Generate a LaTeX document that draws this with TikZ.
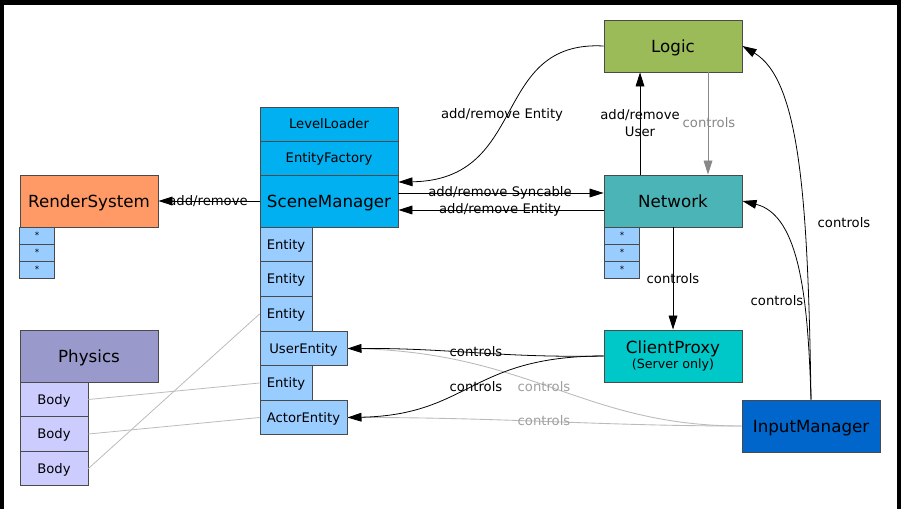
\documentclass[tikz,border=0pt]{standalone}
\usepackage{fontspec}
\setmainfont{DejaVu Sans}
\usetikzlibrary{arrows.meta}

\definecolor{edgecol}{HTML}{4A4A4A}
\definecolor{scenecol}{HTML}{00B0F0}
\definecolor{entcol}{HTML}{99CCFF}
\definecolor{rendercol}{HTML}{FF9966}
\definecolor{logiccol}{HTML}{9BBB59}
\definecolor{netcol}{HTML}{4BB4B6}
\definecolor{proxycol}{HTML}{00C8C8}
\definecolor{inputcol}{HTML}{0066CC}
\definecolor{physcol}{HTML}{9999CC}
\definecolor{bodycol}{HTML}{CCCCFF}
\definecolor{midgray}{HTML}{888888}
\definecolor{lightgray}{HTML}{BBBBBB}

\begin{document}
\begin{tikzpicture}[x=0.02cm,y=-0.02cm,
    box/.style={draw=edgecol,line width=0.5pt,inner sep=0pt,minimum width=2.76cm,
      minimum height=1.04cm,font=\fontsize{9.5}{11}\selectfont,
      text height=6.9pt,text depth=0pt},
    cell/.style={draw=edgecol,line width=0.5pt,inner sep=0pt,minimum height=0.69cm,
      font=\fontsize{7.5}{9}\selectfont,text height=5.5pt,text depth=0pt},
    star/.style={draw=edgecol,fill=entcol,line width=0.5pt,inner sep=0pt,
      minimum width=0.7cm,minimum height=0.34cm,font=\fontsize{5}{5}\selectfont},
    lbl/.style={inner sep=0pt,font=\fontsize{7.5}{9}\selectfont},
    conn/.style={line width=0.45pt,-{Triangle[length=8pt,width=5pt]}},
    faint/.style={line width=0.5pt,draw=lightgray},
  ]
  \useasboundingbox (0,0) rectangle (901,509);
  % black frame round the sheet
  \fill[black] (0,0) rectangle (901,509);
  \fill[white] (4,5) rectangle (897,509);

  % render system
  \node[box,fill=rendercol] (render) at (89,201) {RenderSystem};
  \node[star] (rstar1) at (37,235.5) {*};
  \node[star] (rstar2) at (37,252.5) {*};
  \node[star] (rstar3) at (37,269.5) {*};

  % scene manager column
  \node[box,fill=scenecol,minimum height=0.68cm,font=\fontsize{7.5}{9}\selectfont,text height=5.5pt] (loader) at (329,124) {LevelLoader};
  \node[box,fill=scenecol,minimum height=0.68cm,font=\fontsize{7.5}{9}\selectfont,text height=5.5pt] (factory) at (329,158) {EntityFactory};
  \node[box,fill=scenecol] (scene) at (329,201) {SceneManager};
  \node[cell,fill=entcol,minimum width=1.04cm] (ent1) at (286,244.5) {Entity};
  \node[cell,fill=entcol,minimum width=1.04cm] (ent2) at (286,279) {Entity};
  \node[cell,fill=entcol,minimum width=1.04cm] (ent3) at (286,314) {Entity};
  \node[cell,fill=entcol,minimum width=1.74cm] (userent) at (303.5,348.5) {UserEntity};
  \node[cell,fill=entcol,minimum width=1.04cm] (ent5) at (286,383) {Entity};
  \node[cell,fill=entcol,minimum width=1.74cm] (actorent) at (303.5,417.5) {ActorEntity};

  % physics
  \node[box,fill=physcol] (physics) at (89,356) {Physics};
  \node[cell,fill=bodycol,minimum width=1.36cm] (body1) at (54,399.5) {Body};
  \node[cell,fill=bodycol,minimum width=1.36cm] (body2) at (54,434) {Body};
  \node[cell,fill=bodycol,minimum width=1.36cm] (body3) at (54,468.5) {Body};

  % right hand side
  \node[box,fill=logiccol] (logic) at (673,46) {Logic};
  \node[box,fill=netcol] (network) at (673,201) {Network};
  \node[star] (nstar1) at (622,235.5) {*};
  \node[star] (nstar2) at (622,252.5) {*};
  \node[star] (nstar3) at (622,269.5) {*};
  \node[box,fill=proxycol,align=center,text height=,text depth=] (proxy) at (673,356)
    {ClientProxy\\[-2pt]{\fontsize{7.2}{8}\selectfont (Server only)}};
  \node[box,fill=inputcol] (input) at (811,426) {InputManager};

  % bodies to entities
  \draw[line width=0.45pt,draw=lightgray] (body1.east) -- (ent5.west);
  \draw[line width=0.45pt,draw=lightgray] (body2.east) -- (actorent.west);
  \draw[line width=0.45pt,draw=lightgray] (body3.east) -- (ent3.west);

  % input manager to the entities
  \draw[faint] (input.west) .. controls (580,426) and (530,350) .. (userent.east);
  \draw[faint] (input.west) .. controls (600,426) and (500,417) .. (actorent.east);
  \node[lbl,text=midgray!80] (lctrl3) at (544,387) {controls};
  \node[lbl,text=midgray!80] (lctrl4) at (544,421) {controls};

  \draw[conn] (scene.west) -- (render.east);
  \node[lbl] (laddrem) at (208,201) {add/remove};

  \draw[conn] (logic.west) .. controls (490,40) and (530,180) .. ([yshift=3.8mm]scene.east);
  \node[lbl] (laddent) at (502,115) {add/remove Entity};

  \draw[conn] ([yshift=1.6mm]scene.east) -- ([yshift=1.6mm]network.west);
  \node[lbl] (lsync) at (500,193) {add/remove Syncable};
  \draw[conn] ([yshift=-1.8mm]network.west) -- ([yshift=-1.8mm]scene.east);
  \node[lbl] (lentity) at (500,210) {add/remove Entity};

  \draw[conn] ([xshift=-6.6mm]network.north) -- ([xshift=-6.6mm]logic.south);
  \node[lbl,align=center,font=\fontsize{7.5}{9.6}\selectfont] (luser) at (640,123) {add/remove\\User};
  \draw[conn,midgray] ([xshift=7mm]logic.south) -- ([xshift=7mm]network.north);
  \node[lbl,text=midgray] (lctrl0) at (709,123) {controls};

  \draw[conn] (network.south) -- (proxy.north);
  \node[lbl] (lctrl1) at (673,279) {controls};

  \draw[conn] (input.north) .. controls (808,200) and (800,80) .. (logic.east);
  \node[lbl] (lctrl5) at (844,223) {controls};
  \draw[conn] (input.north) .. controls (808,300) and (800,215) .. (network.east);
  \node[lbl] (lctrl6) at (777,301) {controls};

  \draw[conn] (proxy.west) .. controls (500,358) and (450,348) .. (userent.east);
  \node[lbl] (lctrl2) at (476,352) {controls};
  \draw[conn] (proxy.west) .. controls (470,356) and (470,415) .. (actorent.east);
  \node[lbl] (lctrl7) at (476,387) {controls};
\end{tikzpicture}
\end{document}
